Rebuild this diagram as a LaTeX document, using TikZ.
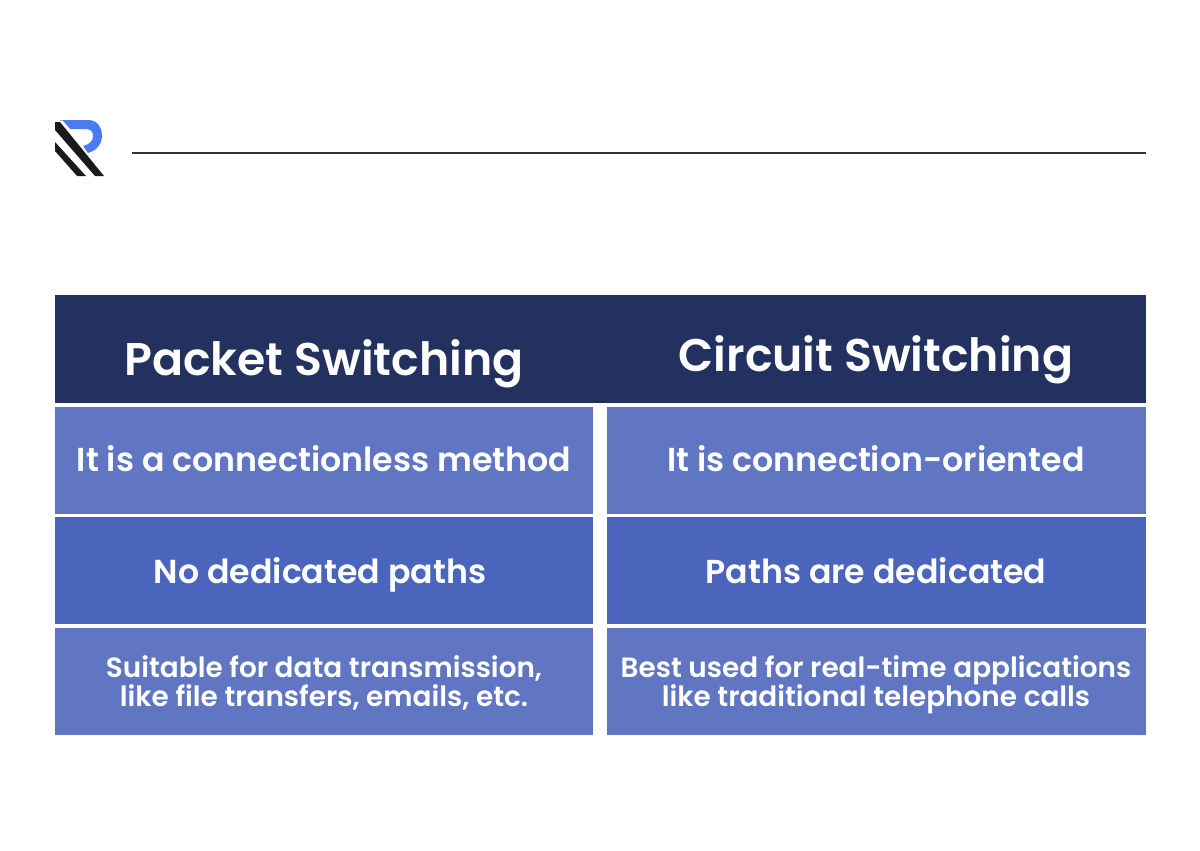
\documentclass[tikz,border=0pt]{standalone}
\usepackage{fontspec}
\setmainfont{Poppins}[FontFace={sb}{n}{Font=* SemiBold}]
\definecolor{headblue}{HTML}{223160}
\definecolor{lightblue}{HTML}{6076C2}
\definecolor{midblue}{HTML}{4B65BC}
\definecolor{logoblue}{HTML}{4A7BF2}
\definecolor{logoblack}{HTML}{1A1A1A}
\definecolor{rulegray}{HTML}{333333}
\tikzset{
  cell/.style={inner sep=0pt, minimum width=538.5pt, minimum height=107pt},
  headtext/.style={inner sep=0pt, anchor=base, text=white, font=\fontseries{sb}\fontsize{45.8}{50}\selectfont},
  celltext/.style={inner sep=0pt, anchor=base, text=white, font=\fontseries{sb}\fontsize{33.2}{38}\selectfont},
  smalltext/.style={inner sep=0pt, anchor=base, text=white, font=\fontseries{sb}\fontsize{27.9}{29}\selectfont}
}
\begin{document}
\begin{tikzpicture}[x=1pt,y=-1pt]
    \useasboundingbox (0,0) rectangle (1200,851);
    \fill[white] (0,0) rectangle (1200,851);
    % logo
    \fill[logoblue] (60,120) -- (88,120) .. controls (98,120) and (102,128) .. (102,135)
      .. controls (102,146) and (95,151) .. (88,153) -- (83,146)
      .. controls (90,144) and (93,141) .. (93,136) .. controls (93,131) and (90,129) .. (87,129)
      -- (68,129) -- cycle;
    \fill[white] (60,122) -- (68,131) -- (70,129) -- (62,120) -- cycle;
    \fill[logoblack] (55,122) -- (60,122) -- (104,176) -- (95,176) -- (55,130) -- cycle;
    \fill[logoblack] (55,142) -- (86,176) -- (77,176) -- (55,151) -- cycle;
    % rule
    \coordinate (ruleL) at (132,153);
    \coordinate (ruleR) at (1146,153);
    \draw[line width=2pt, rulegray] (ruleL) -- (ruleR);
    % table
    \node[cell, fill=headblue, minimum width=1091pt, minimum height=108pt] (head) at (600.5,349) {};
    \node[cell, fill=lightblue] (a1) at (324,460.5) {};
    \node[cell, fill=lightblue] (b1) at (876.5,460.5) {};
    \node[cell, fill=midblue] (a2) at (324,570.5) {};
    \node[cell, fill=midblue] (b2) at (876.5,570.5) {};
    \node[cell, fill=lightblue] (a3) at (324,681.5) {};
    \node[cell, fill=lightblue] (b3) at (876.5,681.5) {};
    % texts
    \node[headtext] (ta0) at (324,375) {Packet Switching};
    \node[headtext] (tb0) at (876,371) {Circuit Switching};
    \node[celltext] (ta1) at (324,471) {It is a connectionless method};
    \node[celltext] (tb1) at (876,471) {It is connection-oriented};
    \node[celltext] (ta2) at (320,583) {No dedicated paths};
    \node[celltext] (tb2) at (876,583) {Paths are dedicated};
    \node[smalltext] (ta3) at (324,677) {Suitable for data transmission,};
    \node[smalltext] (ta4) at (324,706) {like file transfers, emails, etc.};
    \node[smalltext] (tb3) at (876,677) {Best used for real-time applications};
    \node[smalltext] (tb4) at (876,706) {like traditional telephone calls};
\end{tikzpicture}
\end{document}
